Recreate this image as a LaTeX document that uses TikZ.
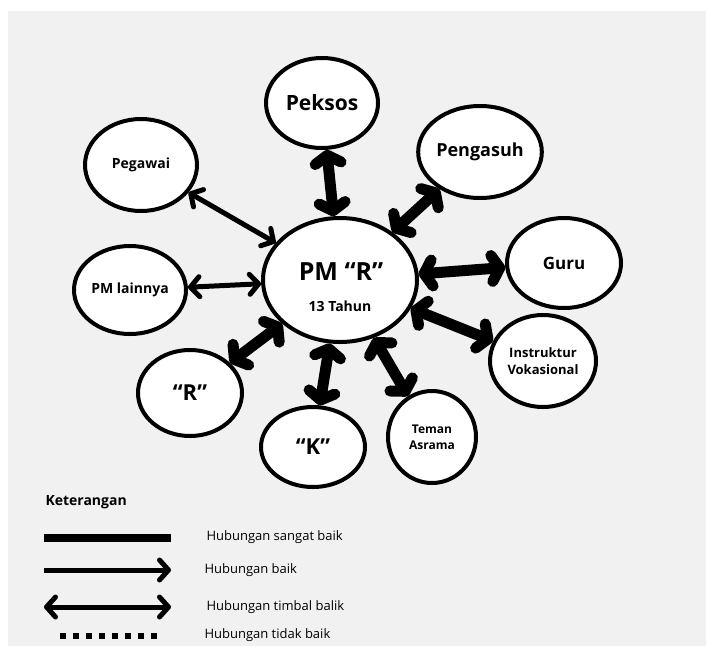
\documentclass[tikz,border=0pt]{standalone}
\usepackage{fontspec}
\setmainfont{Open Sans}
\usepackage{tikz}
\usetikzlibrary{
  arrows.meta,
  shapes.geometric
}
\definecolor{latar}{HTML}{F1F1F1}

\tikzset{
  orang/.style = {ellipse, draw, line width=4pt, fill=white, inner sep=0pt, align=center, font=\bfseries},
  sangatbaik/.style = {line width=11pt, {Straight Barb[length=8pt,width=26pt,round]}-{Straight Barb[length=8pt,width=26pt,round]}},
  timbalbalik/.style = {line width=5pt, {Straight Barb[length=9pt,width=20pt,round]}-{Straight Barb[length=9pt,width=20pt,round]}},
  keterangan/.style = {anchor=west, font=\fontsize{13}{15}\selectfont}
}

\begin{document}
\begin{tikzpicture}[x=1pt, y=-1pt]
\useasboundingbox (0,0) rectangle (706,646);
\fill[white] (0,0) rectangle (706,646);
\fill[latar] (8,11) rectangle (706,646);

% pusat
\node[orang, minimum width=154pt, minimum height=124pt] (pm) at (340,280) {};
\node[font=\bfseries\fontsize{25}{28}\selectfont] (pmnama) at (341,272) {PM “R”};
\node[font=\bfseries\fontsize{14}{17}\selectfont] (pmumur) at (340,306) {13 Tahun};

% orang-orang di sekitar
\node[orang, minimum width=112pt, minimum height=90pt, font=\bfseries\fontsize{21}{24}\selectfont] (peksos) at (322,103) {Peksos};
\node[orang, minimum width=114pt, minimum height=92pt, font=\bfseries\fontsize{18}{21}\selectfont] (pengasuh) at (480,152) {Pengasuh};
\node[orang, minimum width=114pt, minimum height=90pt, font=\bfseries\fontsize{17}{20}\selectfont] (guru) at (564,263) {Guru};
\node[orang, minimum width=106pt, minimum height=92pt, font=\bfseries\fontsize{13}{17}\selectfont] (instruktur) at (543,361) {Instruktur\\Vokasional};
\node[orang, minimum width=88pt, minimum height=92pt, font=\bfseries\fontsize{12}{16}\selectfont] (teman) at (432,437) {Teman\\Asrama};
\node[orang, minimum width=104pt, minimum height=80pt, font=\bfseries\fontsize{22}{26}\selectfont] (k) at (313,447) {“K”};
\node[orang, minimum width=104pt, minimum height=86pt, font=\bfseries\fontsize{22}{26}\selectfont] (r) at (190,393) {“R”};
\node[orang, minimum width=112pt, minimum height=88pt, font=\bfseries\fontsize{14}{17}\selectfont] (lainnya) at (130,290) {PM lainnya};
\node[orang, minimum width=112pt, minimum height=92pt, font=\bfseries\fontsize{14}{17}\selectfont] (pegawai) at (141,165) {Pegawai};

% hubungan
\draw[sangatbaik] (pm) -- (peksos);
\draw[sangatbaik] (pm) -- (pengasuh);
\draw[sangatbaik] (pm) -- (guru);
\draw[sangatbaik] (pm) -- (instruktur);
\draw[sangatbaik] (pm) -- (teman);
\draw[sangatbaik] (pm) -- (k);
\draw[sangatbaik] (pm) -- (r);
\draw[timbalbalik] (pm) -- (lainnya);
\draw[timbalbalik] (pm) -- (pegawai);

% keterangan
\node[anchor=west, font=\bfseries\fontsize{14}{17}\selectfont] (judul) at (42,502) {Keterangan};
\coordinate (a1) at (44,538); \coordinate (b1) at (171,538);
\coordinate (a2) at (44,570); \coordinate (b2) at (171,570);
\coordinate (a3) at (44,607); \coordinate (b3) at (171,607);
\coordinate (a4) at (60,636); \coordinate (b4) at (157,636);
\draw[line width=8pt] (a1) -- (b1);
\draw[line width=5pt, -{Straight Barb[length=9pt,width=20pt,round]}] (a2) -- (b2);
\draw[timbalbalik] (a3) -- (b3);
\draw[line width=6pt, dash pattern=on 6pt off 7pt] (a4) -- (b4);
\node[keterangan] (t1) at (203,537) {Hubungan sangat baik};
\node[keterangan] (t2) at (201,570) {Hubungan baik};
\node[keterangan] (t3) at (203,607) {Hubungan timbal balik};
\node[keterangan] (t4) at (201,635) {Hubungan tidak baik};
\end{tikzpicture}
\end{document}
